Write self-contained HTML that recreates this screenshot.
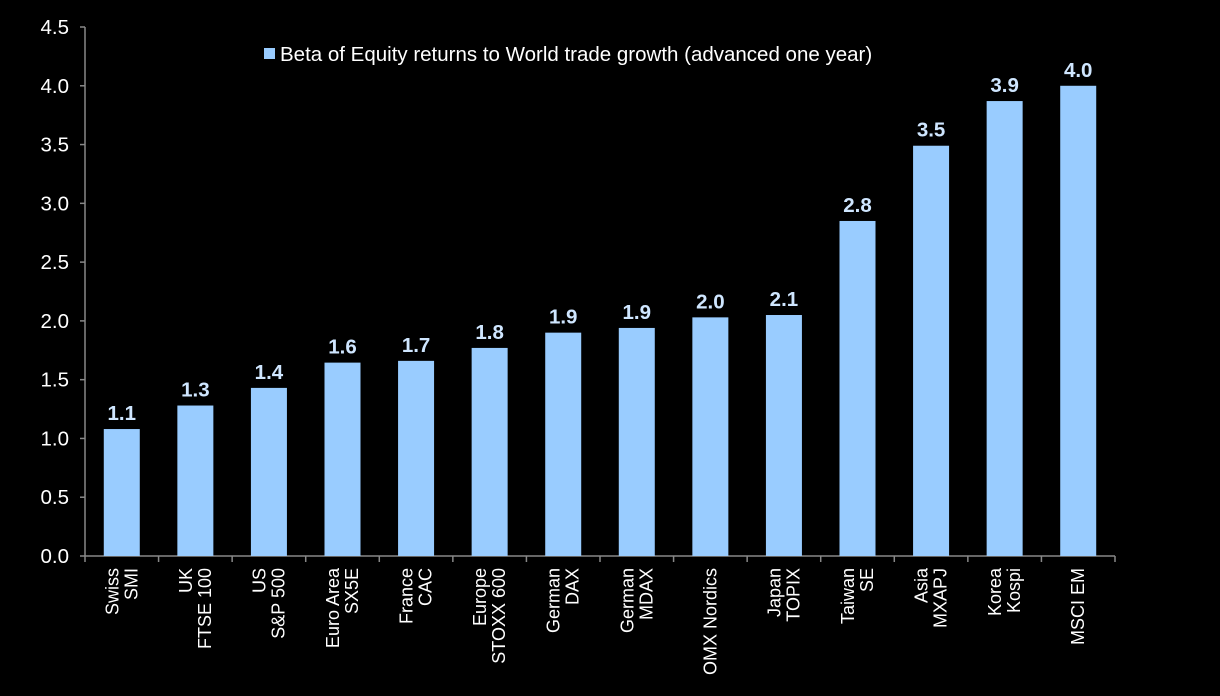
<!DOCTYPE html>
<html><head><meta charset="utf-8"><style>
html,body{margin:0;padding:0;background:#000;}
svg{display:block;font-family:"Liberation Sans",Arial,sans-serif;}
</style></head><body>
<svg id="chart" width="1220" height="696" viewBox="0 0 1220 696">
<rect width="1220" height="696" fill="#000"/>
<g id="axes"></g><g id="bars"></g>
<g>
<rect x="264" y="48" width="11" height="11" fill="#99ccff"/>
<text x="280" y="61" font-size="20.5" fill="#fff">Beta of Equity returns to World trade growth (advanced one year)</text>
</g>
</svg>
<script>
const categories=[["Swiss","SMI"],["UK","FTSE 100"],["US","S&P 500"],["Euro Area","SX5E"],["France","CAC"],["Europe","STOXX 600"],["German","DAX"],["German","MDAX"],["OMX Nordics"],["Japan","TOPIX"],["Taiwan","SE"],["Asia","MXAPJ"],["Korea","Kospi"],["MSCI EM"]];
const values=[1.08,1.28,1.43,1.645,1.66,1.77,1.9,1.94,2.03,2.05,2.85,3.49,3.87,4.0];
const valueLabels=["1.1","1.3","1.4","1.6","1.7","1.8","1.9","1.9","2.0","2.1","2.8","3.5","3.9","4.0"];
const yTicks=["0.0","0.5","1.0","1.5","2.0","2.5","3.0","3.5","4.0","4.5"];
const NS="http://www.w3.org/2000/svg";
const X0=85,X1=1115,Y0=556,Y1=27,YMAX=4.5;
const band=(X1-X0)/categories.length;
function y(v){return Y0-(v/YMAX)*(Y0-Y1);}
function xc(i){return X0+band*(i+0.5);}
function mk(t,a,p){const e=document.createElementNS(NS,t);for(const k in a)e.setAttribute(k,a[k]);p.appendChild(e);return e;}
const ax=document.getElementById('axes'),bg=document.getElementById('bars');
let l=mk('line',{x1:X0,y1:Y1,x2:X0,y2:Y0,stroke:'#888','stroke-width':1.5},ax);


l=mk('line',{x1:X0,y1:Y0,x2:X1,y2:Y0,stroke:'#888','stroke-width':1.5},ax);


yTicks.forEach(t=>{const yy=y(parseFloat(t));
 const tk=mk('line',{x1:X0-5,y1:yy,x2:X0,y2:yy,stroke:'#888','stroke-width':1.5},ax);
 
 
 const tx=mk('text',{x:X0-16,y:yy+7,'text-anchor':'end','font-size':20.5,fill:'#fff'},ax);tx.textContent=t;
 
 
});
for(let i=0;i<=categories.length;i++){const xx=X0+band*i;
 const tk=mk('line',{x1:xx,y1:Y0,x2:xx,y2:Y0+6,stroke:'#888','stroke-width':1.5},ax);
 
 
}
const bw=36;
categories.forEach((c,i)=>{const cx=xc(i),top=y(values[i]);
 const r=mk('rect',{x:cx-bw/2,y:top,width:bw,height:Y0-top,fill:'#99ccff'},bg);
 
 
 const vl=mk('text',{x:cx,y:top-9,'text-anchor':'middle','font-size':20.5,'font-weight':'bold',fill:'#cfe6ff'},bg);vl.textContent=valueLabels[i];
 
 
 const n=c.length;
 c.forEach((line,j)=>{const off=(j-(n-1)/2)*19;
  const t=mk('text',{transform:`translate(${cx+off+6},568) rotate(-90)`,'text-anchor':'end','font-size':18,fill:'#fff'},bg);t.textContent=line;
  
  
 });
});
</script>
</body></html>
